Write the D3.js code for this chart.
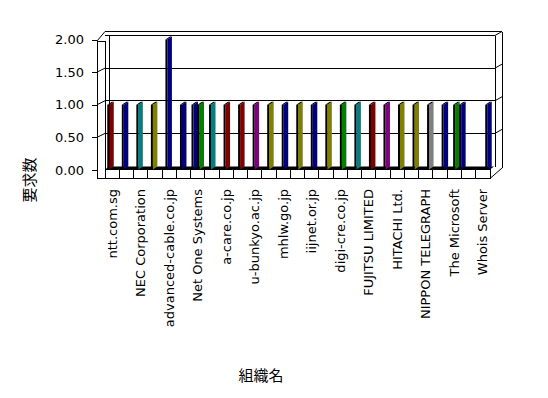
<!DOCTYPE html>
<html>
<head>
<meta charset="utf-8">
<script src="https://cdn.jsdelivr.net/npm/d3@7"></script>
<style>
body{margin:0;background:#fff}
text{fill:#000}
</style>
</head>
<body>
<svg width="548" height="398"></svg>
<script>
// 27 organisations, only every second name is printed on the axis ("" = label skipped)
var categories = ["ntt.com.sg","","NEC Corporation","","advanced-cable.co.jp","","Net One Systems","",
  "a-care.co.jp","","u-bunkyo.ac.jp","","mhlw.go.jp","","iijnet.or.jp","","digi-cre.co.jp","",
  "FUJITSU LIMITED","","HITACHI Ltd.","","NIPPON TELEGRAPH","","The Microsoft","","Whois Server"];
var valuesA = [1,1,1,1,2,1,1,1,1,1,1,1,1,1,1,1,1,1,1,1,1,1,1,1,1,0,1];
var valuesB = [0,0,0,0,0,0,1,0,0,0,0,0,0,0,0,0,0,0,0,0,0,0,0,0,1,0,0];
var colorA  = [0,1,2,3,1,1,1,2,0,0,5,3,1,3,1,3,4,2,0,5,3,3,6,1,4,1,1];
var colorB  = [0,0,0,0,0,0,4,0,0,0,0,0,0,0,0,0,0,0,0,0,0,0,0,0,1,0,0];
var yTicks = [0, 0.5, 1, 1.5, 2];
var palette = ["#800000","#000080","#008080","#808000","#008000","#800080","#808080"];

function main()
{
var svg = d3.select("svg");
var n = categories.length;

var fx = d3.scaleBand().domain(d3.range(n)).range([105,490]);   // front of floor
var bx = d3.scaleBand().domain(d3.range(n)).range([103.5,496]); // where the columns stand
var y = d3.scaleLinear().domain([0,2]).range([170,39.5]);

var back = -4, floorY = 169.5, floorB = 178.5, floorBack = 166.5;

function line(g, x1, y1, x2, y2, c) {
  g.append("line").attr("x1",x1).attr("y1",y1).attr("x2",x2).attr("y2",y2)
    .attr("stroke", c || "#000").attr("stroke-width",1);
}

var walls = svg.append("g").attr("shape-rendering","crispEdges");
var diag = svg.append("g");

// back wall grid
yTicks.slice(1).forEach(function(v){
  line(walls, 105, y(v)+back, 495, y(v)+back);
  line(diag, 495, y(v)+back, 502, y(v)+back-4);
});
yTicks.slice(1,4).forEach(function(v){
  line(diag, 97, y(v), 105, y(v)+back);
});
line(walls, 97, 41, 97, floorB);
line(walls, 97, 41, 105, 41);
line(walls, 105, 41, 105, floorY);
line(walls, 109, y(2)+back, 109, floorBack);
line(walls, 495, y(2)+back, 495, floorBack);
line(walls, 105, 31.5, 502, 31.5);
line(walls, 502, 31.5, 502, 168);
line(diag, 97, 41, 105, 31.5);

// floor
svg.append("polygon")
  .attr("points", [[105,floorY],[490,floorY],[494,floorBack],[109,floorBack]].join(" "))
  .attr("fill","#000");
walls.append("rect").attr("x",105).attr("y",floorY).attr("width",385).attr("height",floorB-floorY)
  .attr("fill","#fff").attr("stroke","#000");
line(walls, 97, floorB, 490, floorB);
d3.range(1,n).forEach(function(i){
  line(walls, fx(i), floorY, fx(i), floorB);
  line(diag, fx(i)-1, floorY-0.5, fx(i)+3, floorBack+0.5, "#fff");
});
line(diag, 490, floorB, 502, 168);

// columns
var bars = svg.append("g");
d3.range(n).forEach(function(i){
  var items = [];
  if (valuesA[i] > 0) items.push({v: valuesA[i], c: palette[colorA[i]]});
  if (valuesB[i] > 0) items.push({v: valuesB[i], c: palette[colorB[i]]});
  var slot = d3.scalePoint().domain(d3.range(items.length))
    .range([-3*(items.length-1), 3*(items.length-1)]);
  items.forEach(function(d, j){
    var left = bx(i) + bx.bandwidth()/2 + slot(j) - 3.5;
    var top = y(d.v);
    bars.append("polygon")
      .attr("points", [[left+2,top],[left+6.5,top-3],[left+6.5,floorBack],[left+2,floorY]].join(" "))
      .attr("fill", d.c);
    bars.append("polygon")
      .attr("points", [[left,top],[left+2,top],[left+6.5,top-3],[left+4.5,top-3]].join(" "))
      .attr("fill", "#000");
    bars.append("rect").attr("x",left).attr("y",top).attr("width",2).attr("height",floorY-top)
      .attr("fill","#000");
  });
});

// value axis
var ax = svg.append("g").attr("transform","translate(97,0)")
  .call(d3.axisLeft(y).tickValues(yTicks).tickSize(5).tickPadding(8).tickFormat(d3.format(".2f")));
ax.select(".domain").remove();
ax.selectAll("line").attr("shape-rendering","crispEdges");
ax.selectAll("text").attr("font-family","'DejaVu Sans', sans-serif").attr("font-size","13px");

// category labels
svg.append("g").selectAll("text")
  .data(d3.range(n).filter(function(i){ return categories[i]; }))
  .enter().append("text")
  .attr("transform", function(i){ return "translate("+(fx(i)+fx.bandwidth()/2)+",189) rotate(-90)"; })
  .attr("text-anchor","end")
  .attr("dy","0.35em")
  .attr("font-family","'DejaVu Sans', sans-serif")
  .attr("font-size","13px")
  .text(function(i){ return categories[i]; });

svg.append("text")
  .attr("transform","translate(30,180) rotate(-90)")
  .attr("text-anchor","middle").attr("dy","0.35em")
  .attr("font-family","'Noto Sans CJK JP', sans-serif").attr("font-size","15px")
  .text("要求数");

svg.append("text")
  .attr("x",261).attr("y",376).attr("dy","0.35em")
  .attr("text-anchor","middle")
  .attr("font-family","'Noto Sans CJK JP', sans-serif").attr("font-size","15px")
  .text("組織名");
}
main();
</script>
</body>
</html>
